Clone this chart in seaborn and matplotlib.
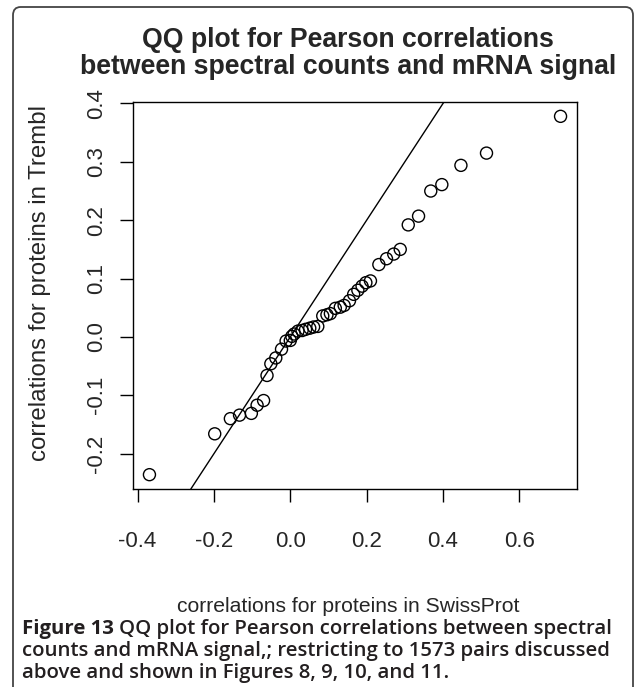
import numpy as np
import pandas as pd
import matplotlib
matplotlib.use("Agg")
import matplotlib.pyplot as plt
import seaborn as sns
from matplotlib.patches import FancyBboxPatch

# Quantiles
swissprot = [-0.369, -0.198, -0.157, -0.133, -0.102, -0.087, -0.070, -0.061, -0.051, -0.038,
             -0.023, -0.011, 0.000, 0.004, 0.010, 0.020, 0.031, 0.040, 0.051, 0.061,
             0.072, 0.085, 0.096, 0.105, 0.118, 0.131, 0.141, 0.155, 0.166, 0.177,
             0.188, 0.198, 0.210, 0.232, 0.252, 0.271, 0.288, 0.309, 0.336, 0.368,
             0.397, 0.447, 0.514, 0.708]
trembl = [-0.236, -0.166, -0.140, -0.134, -0.131, -0.117, -0.109, -0.066, -0.046, -0.036,
          -0.021, -0.007, -0.006, 0.001, 0.005, 0.010, 0.011, 0.013, 0.015, 0.017,
          0.018, 0.036, 0.038, 0.040, 0.049, 0.051, 0.054, 0.062, 0.073, 0.080,
          0.087, 0.093, 0.096, 0.124, 0.134, 0.142, 0.150, 0.192, 0.207, 0.250,
          0.261, 0.294, 0.315, 0.378]
xticks = [-0.4, -0.2, 0.0, 0.2, 0.4, 0.6]
yticks = [-0.2, -0.1, 0.0, 0.1, 0.2, 0.3, 0.4]

title_lines = ["QQ plot for Pearson correlations", "between spectral counts and mRNA signal"]
xlabel = "correlations for proteins in SwissProt"
ylabel = "correlations for proteins in Trembl"
caption_bold = "Figure 13"
caption_lines = [
    "QQ plot for Pearson correlations between spectral",
    "counts and mRNA signal,; restricting to 1573 pairs discussed",
    "above and shown in Figures 8, 9, 10, and 11.",
]

sns.set_style("white")
plt.rcParams['font.family'] = ['Liberation Sans', 'DejaVu Sans']

W, H = 634, 687
fig = plt.figure(figsize=(W / 100, H / 100), dpi=100)
ax = fig.add_axes([133 / W, 1 - 489 / H, (577 - 133) / W, (489 - 102) / H])

df = pd.DataFrame({"x": swissprot, "y": trembl})
sns.scatterplot(data=df, x="x", y="y", ax=ax, marker="o", s=75,
                facecolors="none", edgecolor="black", linewidth=1.0, zorder=3)
ax.axline((0, 0), slope=1, color="black", lw=1.0)

def r_lim(v):
    lo, hi = min(v), max(v)
    d = (hi - lo) * 0.04
    return lo - d, hi + d

ax.set_xlim(*r_lim(swissprot))
ax.set_ylim(*r_lim(trembl))
ax.set_xticks(xticks)
ax.set_yticks(yticks)
ax.set_xticklabels([f"{t:.1f}" for t in xticks], fontsize=16)
ax.set_yticklabels([f"{t:.1f}" for t in yticks], fontsize=16, rotation=90, va="center")
ax.tick_params(axis="x", direction="out", length=9.5, width=1, pad=21, color="black", bottom=True)
ax.tick_params(axis="y", direction="out", length=9.5, width=1, pad=9, color="black", left=True)
ax.set_xlabel("")
ax.set_ylabel("")
for sp in ax.spines.values():
    sp.set_color("black")
    sp.set_linewidth(1.0)

cx = 348 / W
fig.text(cx, 1 - 40 / H, title_lines[0], ha="center", va="center", fontsize=19.2, fontweight="bold")
fig.text(cx, 1 - 67 / H, title_lines[1], ha="center", va="center", fontsize=19.2, fontweight="bold")
fig.text(cx, 1 - 606 / H, xlabel, ha="center", va="center", fontsize=15.2)
fig.text(40 / W, 1 - 283 / H, ylabel, ha="center", va="center", rotation=90, fontsize=17.3)

# frame
frame = FancyBboxPatch((13 / W, -10 / H), (633 - 13) / W, (687 - 7 + 10) / H,
                       boxstyle="round,pad=0,rounding_size=0.012", transform=fig.transFigure,
                       fill=False, edgecolor="#444444", lw=1.3)
fig.patches.append(frame)

cap_font = ['Open Sans', 'DejaVu Sans']
cap_col = "#231f20"
renderer = fig.canvas.get_renderer()

def make_caption(fs):
    texts = []
    t1 = fig.text(22 / W, 1 - 629 / H, caption_bold, ha="left", va="center", fontsize=fs,
                  fontweight="bold", family=cap_font, color=cap_col)
    bb = t1.get_window_extent(renderer)
    t2 = fig.text(bb.x1 / W + 5 / W, 1 - 629 / H, caption_lines[0], ha="left", va="center",
                  fontsize=fs, fontweight="semibold", family=cap_font, color=cap_col)
    t3 = fig.text(22 / W, 1 - 651 / H, caption_lines[1], ha="left", va="center", fontsize=fs,
                  fontweight="semibold", family=cap_font, color=cap_col)
    t4 = fig.text(22 / W, 1 - 673 / H, caption_lines[2], ha="left", va="center", fontsize=fs,
                  fontweight="semibold", family=cap_font, color=cap_col)
    return [t1, t2, t3, t4]

texts = make_caption(13)
right = texts[1].get_window_extent(renderer).x1
fs = 13 * (611 - 22) / (right - 22)
for t in texts:
    t.remove()
make_caption(fs)

fig.savefig("out.png", dpi=100)
